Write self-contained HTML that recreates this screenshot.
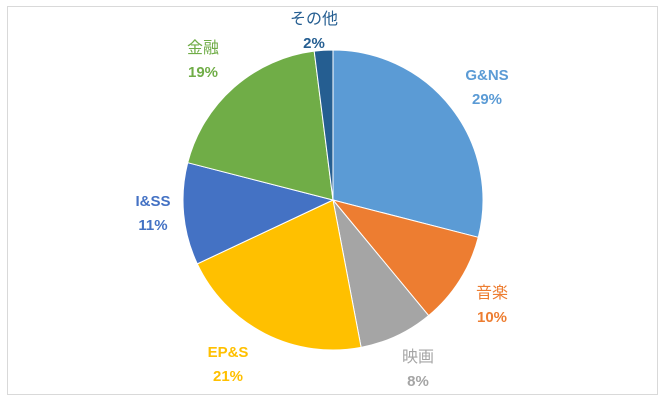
<!DOCTYPE html>
<html><head><meta charset="utf-8">
<style>
body{margin:0;background:#fff;}
#chart{position:absolute;left:0;top:0;width:670px;height:404px;}
text{font-family:"Liberation Sans","Noto Sans CJK JP",sans-serif;}
</style></head>
<body>
<svg id="chart" width="670" height="404" viewBox="0 0 670 404">
<rect x="7.5" y="6.5" width="650" height="388" fill="#fff" stroke="#d9d9d9"/>
<g id="slices"></g>
<g id="labels"></g>
</svg>
<script>
const categories=["G&NS","音楽","映画","EP&S","I&SS","金融","その他"];
const values=[29,10,8,21,11,19,2];
const colors=["#5B9BD5","#ED7D31","#A5A5A5","#FFC000","#4472C4","#70AD47","#255E91"];
const labelPos=[[487,74],[492,292],[418,356],[228,351],[153,200],[203,47],[314,18]];
const cx=333,cy=200,r=150;
const NS="http://www.w3.org/2000/svg";
const total=values.reduce((a,b)=>a+b,0);
const sl=document.getElementById('slices'),lb=document.getElementById('labels');
let acc=0;
values.forEach((v,i)=>{
  const a0=acc/total*2*Math.PI; acc+=v; const a1=acc/total*2*Math.PI;
  const x0=cx+r*Math.sin(a0),y0=cy-r*Math.cos(a0),x1=cx+r*Math.sin(a1),y1=cy-r*Math.cos(a1);
  const p=document.createElementNS(NS,'path');
  p.setAttribute('d',`M${cx},${cy}L${x0},${y0}A${r},${r} 0 ${(a1-a0)>Math.PI?1:0} 1 ${x1},${y1}Z`);
  p.setAttribute('fill',colors[i]);p.setAttribute('stroke','#fff');p.setAttribute('stroke-width','1');
  
  
  sl.appendChild(p);
  const [lx,ly]=labelPos[i];
  const t=document.createElementNS(NS,'text');
  t.setAttribute('x',lx);t.setAttribute('y',ly+6);t.setAttribute('text-anchor','middle');
  t.setAttribute('font-size','16');t.setAttribute('fill',colors[i]);
  if(/^[\x00-\x7F]+$/.test(categories[i])){t.setAttribute('font-weight','bold');t.setAttribute('font-size','15');}
  t.textContent=categories[i];
  
  
  lb.appendChild(t);
  const t2=document.createElementNS(NS,'text');
  t2.setAttribute('x',lx);t2.setAttribute('y',ly+30);t2.setAttribute('text-anchor','middle');
  t2.setAttribute('font-size','15');t2.setAttribute('font-weight','bold');t2.setAttribute('fill',colors[i]);
  t2.textContent=Math.round(v/total*100)+'%';
  
  
  lb.appendChild(t2);
});
</script>
</body></html>
